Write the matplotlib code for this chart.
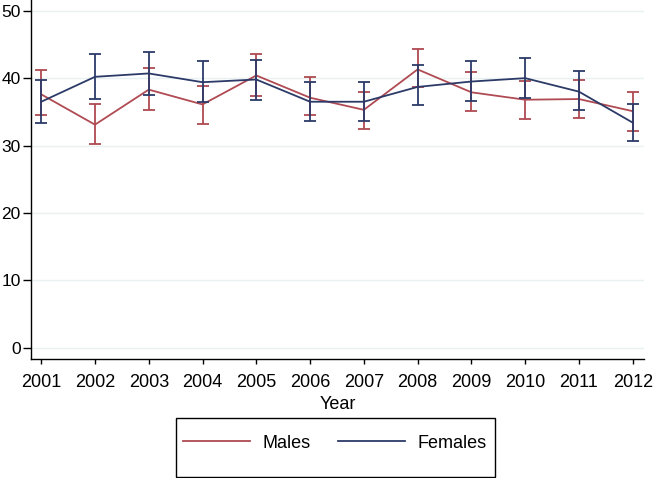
import numpy as np
import matplotlib
matplotlib.use("Agg")
import matplotlib.pyplot as plt
from matplotlib.patches import Rectangle

plt.rcParams['font.family'] = ['Liberation Sans', 'DejaVu Sans']

# Data
years = [2001, 2002, 2003, 2004, 2005, 2006, 2007, 2008, 2009, 2010, 2011, 2012]
males = [37.6, 33.1, 38.3, 36.1, 40.4, 37.1, 35.3, 41.3, 37.9, 36.8, 36.9, 35.1]
males_hi = [41.2, 36.2, 41.5, 38.9, 43.6, 40.2, 38.0, 44.4, 40.9, 39.6, 39.8, 38.0]
males_lo = [34.6, 30.3, 35.3, 33.2, 37.4, 34.5, 32.5, 38.7, 35.2, 33.9, 34.1, 32.2]
females = [36.5, 40.2, 40.7, 39.4, 39.8, 36.5, 36.5, 38.7, 39.5, 40.0, 38.0, 33.4]
females_hi = [39.8, 43.6, 43.9, 42.6, 42.7, 39.4, 39.5, 41.9, 42.6, 43.0, 41.1, 36.2]
females_lo = [33.3, 36.9, 37.5, 36.5, 36.8, 33.6, 33.7, 36.0, 36.6, 37.1, 35.3, 30.6]
yticks = [0, 10, 20, 30, 40, 50]

c_m = '#b04a53'
c_f = '#2c3a68'
fs = 13

fig = plt.figure(figsize=(6.53, 4.78), dpi=100)
ax = fig.add_axes([31 / 653, 1 - 359 / 478, 613 / 653, 359 / 478])

for vals, lo, hi, col, lab in [(males, males_lo, males_hi, c_m, 'Males'),
                               (females, females_lo, females_hi, c_f, 'Females')]:
    v = np.array(vals)
    err = [v - np.array(lo), np.array(hi) - v]
    ax.plot(years, v, color=col, lw=1.3, label=lab, zorder=3)
    ax.errorbar(years, v, yerr=err, fmt='none', ecolor=col, elinewidth=1.3,
                capsize=4, capthick=1.3, zorder=3)

ax.set_xlim(2000.81, 2012.21)
ax.set_ylim(-1.68, 51.6)
ax.set_xticks(years)
ax.set_yticks(yticks)
ax.yaxis.grid(True, color='#e9f1f3', lw=1)
ax.set_axisbelow(True)
for s in ['top', 'right']:
    ax.spines[s].set_visible(False)
for s in ['left', 'bottom']:
    ax.spines[s].set_linewidth(1.0)
ax.tick_params(axis='y', length=6, width=1, pad=1.5, labelsize=12.5)
ax.tick_params(axis='x', length=3.5, width=1, pad=7, labelsize=fs)
ax.set_xlabel('Year', fontsize=fs, labelpad=4)

# legend box in Stata style
fig.patches.append(Rectangle((176 / 653, 1 / 478), 319 / 653, 59 / 478,
                             transform=fig.transFigure, fill=False,
                             edgecolor='black', lw=1.0))
handles, labels = ax.get_legend_handles_labels()
fig.legend(handles, labels, loc='center', bbox_to_anchor=(335 / 653, 1 - 443 / 478),
           ncol=2, frameon=False, fontsize=fs, handlelength=3.7,
           handletextpad=0.7, columnspacing=1.55)

fig.savefig('out.png', dpi=100)
